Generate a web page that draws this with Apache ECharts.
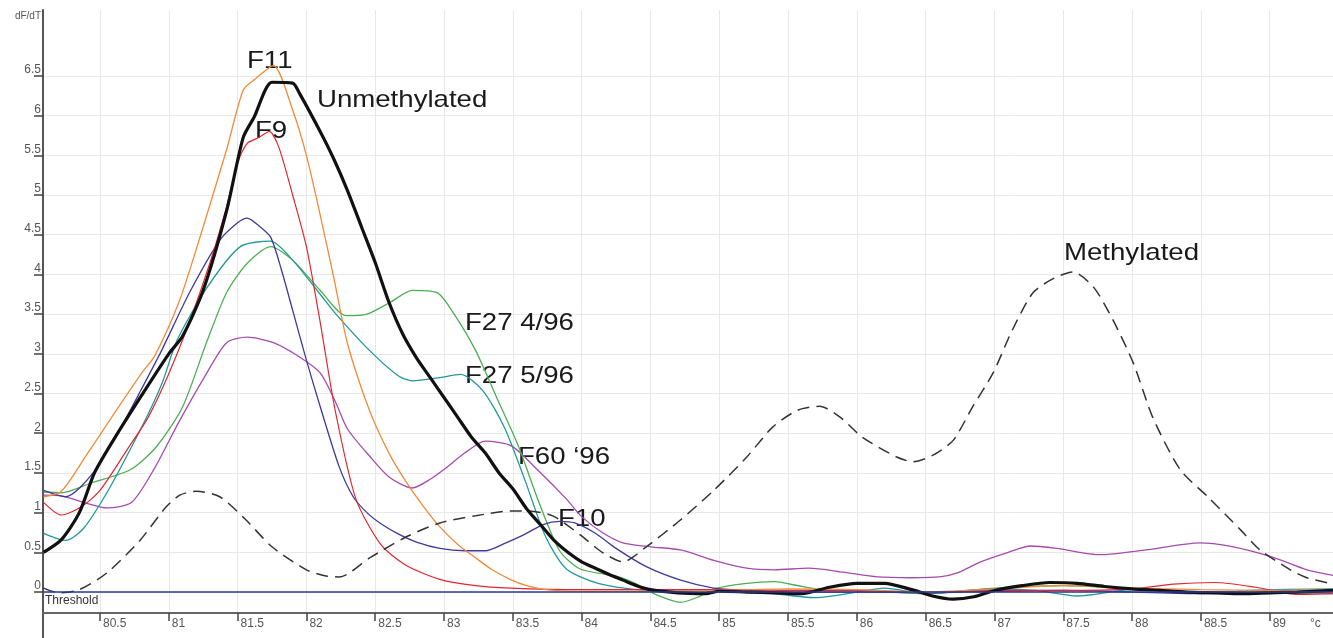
<!DOCTYPE html>
<html><head><meta charset="utf-8">
<script src="https://cdn.jsdelivr.net/npm/echarts@6/dist/echarts.min.js"></script>
<style>html,body{margin:0;padding:0;background:#fff}#c{width:1333px;height:638px}</style>
</head><body><div id="c"></div>
<script>
// ---- data (temperature °C, dF/dT) ----
const xTicks = [80.5,81,81.5,82,82.5,83,83.5,84,84.5,85,85.5,86,86.5,87,87.5,88,88.5,89];
const yTicks = [0,0.5,1,1.5,2,2.5,3,3.5,4,4.5,5,5.5,6,6.5];

const unmethylated = [[80.09,0.5],[80.22,0.66],[80.35,1.0],[80.46,1.5],[80.6,1.92],[80.8,2.47],[81.0,3.0],[81.1,3.22],[81.25,3.8],[81.42,4.8],[81.54,5.72],[81.62,5.98],[81.75,6.42],[81.9,6.41],[81.95,6.28],[82.1,5.8],[82.2,5.45],[82.3,5.05],[82.4,4.6],[82.5,4.15],[82.6,3.65],[82.7,3.25],[82.8,2.95],[82.9,2.7],[83.0,2.45],[83.1,2.2],[83.2,1.95],[83.3,1.75],[83.4,1.5],[83.5,1.3],[83.6,1.05],[83.7,0.85],[83.8,0.65],[83.9,0.5],[84.0,0.38],[84.1,0.3],[84.2,0.22],[84.3,0.15],[84.4,0.08],[84.5,0.03],[84.7,-0.01],[84.9,-0.02],[85.0,0.01],[85.2,0.0],[85.4,-0.01],[85.6,-0.02],[85.8,0.06],[86.0,0.11],[86.2,0.11],[86.4,0.03],[86.55,-0.05],[86.7,-0.09],[86.85,-0.06],[87.0,0.02],[87.2,0.08],[87.4,0.12],[87.6,0.11],[87.8,0.07],[88.0,0.04],[88.2,0.02],[88.4,0.0],[88.6,-0.01],[88.8,-0.02],[89.0,-0.01],[89.2,0.0],[89.46,0.02]];
const f11 = [[80.09,1.2],[80.22,1.27],[80.4,1.72],[80.6,2.24],[80.8,2.75],[80.9,2.98],[81.08,3.68],[81.25,4.6],[81.42,5.57],[81.54,6.32],[81.62,6.45],[81.76,6.63],[81.9,6.07],[82.0,5.5],[82.1,4.75],[82.2,3.95],[82.3,3.12],[82.46,2.28],[82.6,1.75],[82.72,1.4],[82.85,1.08],[82.97,0.82],[83.1,0.6],[83.23,0.43],[83.35,0.28],[83.48,0.16],[83.6,0.08],[83.74,0.03],[84.0,0.01],[84.5,0.01],[85.0,0.02],[85.5,0.04],[86.0,0.03],[86.5,0.0],[87.0,0.04],[87.5,0.08],[88.0,0.05],[88.5,0.03],[89.0,0.02],[89.46,0.03]];
const f9 = [[80.09,1.13],[80.22,0.97],[80.37,1.08],[80.5,1.28],[80.7,1.8],[80.85,2.2],[81.0,2.75],[81.15,3.4],[81.3,4.15],[81.42,4.85],[81.5,5.4],[81.57,5.65],[81.65,5.72],[81.73,5.8],[81.8,5.6],[81.9,5.0],[82.0,4.35],[82.1,3.4],[82.21,2.28],[82.36,1.17],[82.54,0.6],[82.72,0.34],[82.97,0.16],[83.23,0.08],[83.48,0.05],[84.0,0.03],[84.5,0.03],[85.0,0.03],[85.5,0.02],[86.0,0.02],[86.5,0.0],[87.0,0.02],[87.5,0.02],[88.0,0.04],[88.3,0.1],[88.6,0.12],[88.9,0.06],[89.2,-0.03],[89.46,-0.02]];
const f10 = [[80.09,1.28],[80.25,1.2],[80.45,1.5],[80.67,2.13],[80.8,2.55],[80.95,3.05],[81.15,3.77],[81.37,4.43],[81.5,4.65],[81.57,4.71],[81.65,4.62],[81.74,4.47],[81.82,4.05],[81.9,3.55],[82.0,2.92],[82.11,2.28],[82.24,1.57],[82.34,1.2],[82.44,1.0],[82.55,0.85],[82.67,0.73],[82.8,0.63],[82.97,0.55],[83.15,0.52],[83.3,0.52],[83.45,0.62],[83.59,0.73],[83.72,0.85],[83.84,0.89],[83.95,0.87],[84.1,0.74],[84.25,0.55],[84.47,0.32],[84.72,0.15],[84.96,0.05],[85.2,0.02],[85.5,0.0],[86.0,0.0],[86.5,-0.01],[87.0,0.01],[87.5,0.02],[88.0,0.0],[88.5,-0.02],[89.0,0.0],[89.46,0.01]];
const f27_5 = [[80.09,0.74],[80.25,0.65],[80.38,0.8],[80.55,1.25],[80.73,1.83],[80.88,2.35],[80.96,2.67],[81.06,3.17],[81.28,3.84],[81.52,4.35],[81.74,4.42],[81.9,4.18],[82.1,3.75],[82.21,3.51],[82.46,3.04],[82.67,2.72],[82.77,2.66],[82.97,2.7],[83.12,2.74],[83.28,2.54],[83.44,2.07],[83.59,1.4],[83.74,0.69],[83.89,0.29],[84.12,0.11],[84.5,0.02],[85.0,0.03],[85.3,0.0],[85.7,-0.07],[86.0,0.0],[86.2,0.05],[86.5,-0.02],[87.0,0.04],[87.3,0.02],[87.6,-0.05],[88.0,0.03],[88.5,-0.01],[89.0,0.03],[89.46,0.04]];
const f27_4 = [[80.09,1.26],[80.22,1.25],[80.43,1.37],[80.72,1.54],[80.91,1.83],[81.1,2.33],[81.28,3.17],[81.42,3.77],[81.57,4.14],[81.74,4.35],[81.9,4.18],[82.1,3.8],[82.29,3.48],[82.44,3.5],[82.61,3.65],[82.77,3.8],[82.95,3.77],[83.07,3.51],[83.23,3.04],[83.38,2.46],[83.54,1.84],[83.69,1.13],[83.84,0.52],[83.99,0.29],[84.25,0.2],[84.4,0.1],[84.55,-0.04],[84.72,-0.13],[84.85,-0.06],[84.96,0.04],[85.2,0.11],[85.4,0.13],[85.6,0.07],[85.8,0.02],[86.0,0.02],[86.5,-0.02],[87.0,0.05],[87.5,0.08],[88.0,0.04],[88.5,0.0],[89.0,0.0],[89.46,-0.02]];
const f60 = [[80.09,1.22],[80.22,1.21],[80.4,1.12],[80.55,1.06],[80.73,1.13],[80.9,1.57],[81.07,2.13],[81.26,2.71],[81.42,3.14],[81.57,3.21],[81.76,3.14],[81.95,2.96],[82.1,2.76],[82.21,2.4],[82.3,2.05],[82.46,1.71],[82.6,1.45],[82.77,1.31],[82.9,1.42],[83.02,1.57],[83.15,1.75],[83.3,1.9],[83.49,1.84],[83.69,1.52],[83.89,1.17],[84.0,0.95],[84.15,0.75],[84.3,0.62],[84.5,0.57],[84.72,0.53],[84.96,0.4],[85.2,0.3],[85.4,0.28],[85.65,0.3],[85.9,0.25],[86.15,0.19],[86.4,0.18],[86.6,0.19],[86.73,0.24],[86.9,0.38],[87.1,0.5],[87.26,0.58],[87.45,0.55],[87.77,0.47],[88.1,0.53],[88.49,0.62],[88.7,0.58],[89.02,0.44],[89.27,0.28],[89.46,0.21]];
const methylated = [[80.09,0.05],[80.2,-0.01],[80.35,0.03],[80.55,0.24],[80.79,0.65],[80.98,1.07],[81.08,1.22],[81.2,1.27],[81.37,1.2],[81.56,0.91],[81.75,0.57],[82.0,0.28],[82.15,0.2],[82.24,0.19],[82.46,0.43],[82.72,0.69],[82.97,0.87],[83.23,0.96],[83.48,1.02],[83.61,1.02],[83.79,0.96],[83.99,0.72],[84.15,0.5],[84.3,0.38],[84.47,0.57],[84.72,0.91],[84.96,1.28],[85.2,1.7],[85.39,2.08],[85.57,2.29],[85.73,2.34],[85.88,2.2],[86.04,1.95],[86.29,1.7],[86.41,1.64],[86.55,1.72],[86.7,1.91],[86.84,2.33],[86.99,2.76],[87.13,3.3],[87.28,3.77],[87.43,3.95],[87.57,4.03],[87.72,3.84],[87.86,3.43],[88.01,2.88],[88.15,2.2],[88.35,1.54],[88.55,1.2],[88.79,0.78],[88.93,0.53],[89.15,0.28],[89.27,0.18],[89.44,0.11]];

const annotations = ['F11','Unmethylated','F9','F27 4/96','F27 5/96','F60 \u201896','F10','Methylated'];

// ---- chart ----
const FONT = '"Liberation Sans", Arial, sans-serif';
const chart = echarts.init(document.getElementById('c'), null, {renderer:'canvas'});

function lineSeries(name, data, color, width, extra) {
  return Object.assign({
    name, type:'line', data, showSymbol:false, smooth:0.25, silent:true,
    lineStyle:{color, width}, itemStyle:{color}
  }, extra || {});
}

const annPos = [
  [247,61],[317,100],[255,131],[465,323],[465,376],[518,457],[558,519],[1064,253]
];

const option = {
  animation:false,
  backgroundColor:'#fff',
  grid:{left:43, right:0, top:10, bottom:25, containLabel:false},
  xAxis:{
    type:'value', min:80.086, max:89.46,
    axisLine:{show:true, onZero:false, lineStyle:{color:'#666', width:2}},
    axisTick:{show:true, customValues:xTicks, length:8, lineStyle:{color:'#444', width:1.5}},
    axisLabel:{customValues:xTicks, align:'left', margin:5, padding:[0,0,0,3], color:'#555', fontSize:12, fontFamily:FONT},
    splitLine:{show:true, lineStyle:{color:'#e8e8e8', width:1}}
  },
  yAxis:{
    type:'value', min:-0.264, max:7.33,
    axisLine:{show:true, onZero:false, lineStyle:{color:'#555', width:2}},
    axisTick:{show:true, customValues:yTicks, length:9, lineStyle:{color:'#444', width:1.5}},
    axisLabel:{customValues:yTicks, verticalAlign:'bottom', margin:2, color:'#555', fontSize:12, fontFamily:FONT},
    splitLine:{show:true, lineStyle:{color:'#e8e8e8', width:1}}
  },
  series:[
    lineSeries('F60 \u201896', f60, '#a64aae', 1.3),
    lineSeries('F27 4/96', f27_4, '#4caf50', 1.3),
    lineSeries('F27 5/96', f27_5, '#21989a', 1.3),
    lineSeries('F10', f10, '#3d3a9c', 1.3),
    lineSeries('F9', f9, '#e3262e', 1.2),
    lineSeries('F11', f11, '#f28a3a', 1.3),
    lineSeries('Methylated', methylated, '#333', 1.5, {lineStyle:{color:'#333', width:1.5, type:[12,7]}}),
    lineSeries('Unmethylated', unmethylated, '#111', 3.2, {
      markLine:{
        silent:true, symbol:'none', animation:false,
        lineStyle:{color:'#2b3a9b', width:1.5, type:'solid'},
        label:{show:true, formatter:'Threshold', position:'insideStartBottom', color:'#333', fontSize:12, fontFamily:FONT, distance:[2,3]},
        data:[{yAxis:0}]
      }
    })
  ]
};
chart.setOption(option);

// decorations that depend on the rendered axes
const origin = chart.convertToPixel({gridIndex:0}, [80.086, -0.264]);
const gfx = [
  {type:'line', shape:{x1:origin[0], y1:origin[1], x2:origin[0], y2:638}, style:{stroke:'#555', lineWidth:2}},
  {type:'text', x:41, y:16, style:{text:'dF/dT', align:'right', verticalAlign:'middle', fill:'#555', fontSize:10, fontFamily:FONT}},
  {type:'text', x:1310, y:624, style:{text:'\u00b0c', align:'left', verticalAlign:'middle', fill:'#555', fontSize:12, fontFamily:FONT}}
];
annotations.forEach((t, i) => {
  gfx.push({type:'text', x:annPos[i][0], y:annPos[i][1], scaleX:1.15,
    style:{text:t, align:'left', verticalAlign:'middle', fill:'#1a1a1a', fontSize:24, fontFamily:FONT}});
});
chart.setOption({graphic:gfx});
</script></body></html>
